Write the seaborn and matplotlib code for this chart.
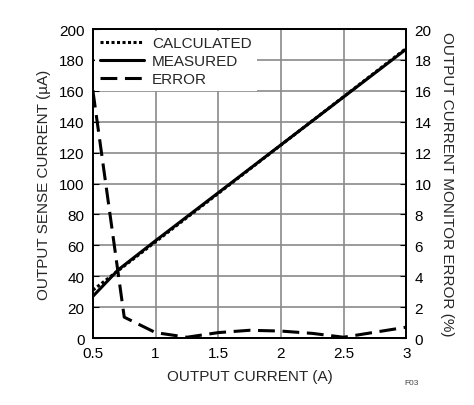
import numpy as np
import pandas as pd
import matplotlib
matplotlib.use("Agg")
import matplotlib.pyplot as plt
from matplotlib.lines import Line2D
import seaborn as sns

# данные
calc_current = [0.5, 3.0]
calculated = [31.0, 187.5]

meas_current = [0.5, 0.7, 1.0, 3.0]
measured = [27.0, 44.0, 63.0, 187.0]

err_current = [0.5, 0.75, 1.0, 1.25, 1.5, 1.75, 2.0, 2.25, 2.5, 3.0]
error_pct = [16.0, 1.35, 0.35, 0.05, 0.35, 0.5, 0.45, 0.3, 0.05, 0.7]

sns.set_style("white")
plt.rcParams['font.family'] = ['Liberation Sans Narrow', 'Liberation Sans', 'DejaVu Sans']
fs = 11

fig = plt.figure(figsize=(4.74, 4.06), dpi=100)
ax = fig.add_axes([0.196, 0.165, 0.661, 0.761])
ax2 = ax.twinx()

df_calc = pd.DataFrame({'x': calc_current, 'y': calculated})
df_meas = pd.DataFrame({'x': meas_current, 'y': measured})
df_err = pd.DataFrame({'x': err_current, 'y': error_pct})

dotted = (0, (1, 0.8))
dashed = (0, (5.5, 2.5))

sns.lineplot(data=df_calc, x='x', y='y', ax=ax, color='black', lw=2.2,
             linestyle=dotted, label='CALCULATED')
sns.lineplot(data=df_meas, x='x', y='y', ax=ax, color='black', lw=2.2,
             label='MEASURED')
sns.lineplot(data=df_err, x='x', y='y', ax=ax2, color='black', lw=2.2,
             linestyle=dashed, legend=False)

ax.set_xlim(0.5, 3)
ax.set_ylim(0, 200)
ax2.set_ylim(0, 20)
ax.set_xticks(np.arange(0.5, 3.01, 0.5))
ax.set_xticklabels(['0.5', '1', '1.5', '2', '2.5', '3'])
ax.set_yticks(np.arange(0, 201, 20))
ax2.set_yticks(np.arange(0, 21, 2))

ax.grid(True, color='#8a8a8a', lw=1.2)
ax.set_axisbelow(True)
for a in (ax, ax2):
    a.tick_params(direction='in', length=4, labelsize=fs, colors='black', pad=6)
    for s in a.spines.values():
        s.set_color('black')
        s.set_linewidth(1.3)

ax.set_xlabel('OUTPUT CURRENT (A)', fontsize=fs, labelpad=6)
ax.set_ylabel('OUTPUT SENSE CURRENT (µA)', fontsize=fs, labelpad=6)
ax2.set_ylabel('OUTPUT CURRENT MONITOR ERROR (%)', fontsize=fs, rotation=270,
               labelpad=16)

# легенда с ошибкой, белый фон закрывает сетку
handles, labels = ax.get_legend_handles_labels()
handles.append(Line2D([], [], color='black', lw=2.2, linestyle=dashed))
labels.append('ERROR')
leg = ax2.legend(handles, labels, loc='upper left', frameon=True, fontsize=fs,
                 handlelength=2.9, handletextpad=0.5, labelspacing=0.25,
                 borderaxespad=0.12, borderpad=0.35, fancybox=False)
leg.get_frame().set_facecolor('white')
leg.get_frame().set_edgecolor('none')
leg.get_frame().set_alpha(1)
ax.get_legend().remove()

fig.text(0.853, 0.052, 'F03', fontsize=6, color='#444444')

fig.savefig('out.png', dpi=100)
